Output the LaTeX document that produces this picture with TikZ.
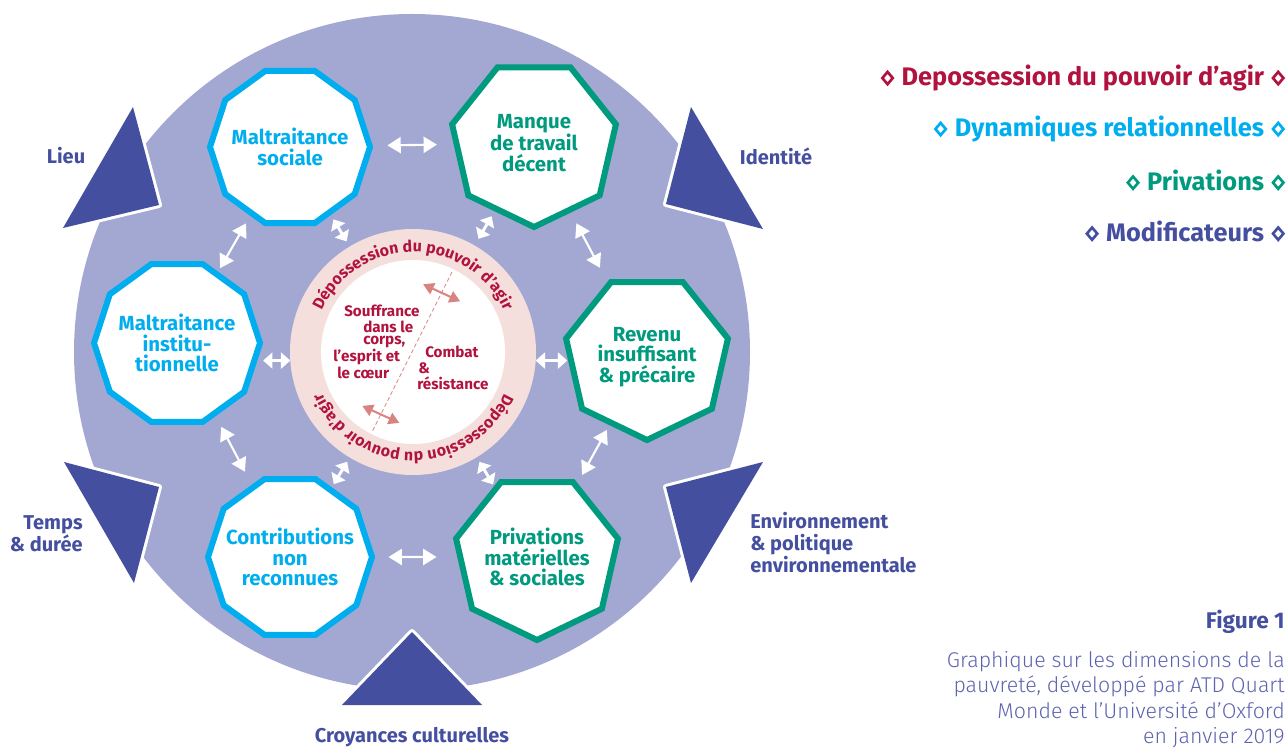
\documentclass[tikz,border=0pt]{standalone}
\usepackage{fontspec}
\setmainfont{Fira Sans}
\newfontfamily\finfont{Fira Sans Light}
\usepackage{tikz}
\usetikzlibrary{
  shapes.geometric,
  arrows.meta,
  decorations.text,
  calc}

\definecolor{fond}{HTML}{A3A8D3}
\definecolor{modif}{HTML}{454FA0}
\definecolor{dynbleu}{HTML}{00AEEF}
\definecolor{privert}{HTML}{009A7E}
\definecolor{depcrim}{HTML}{B2123E}
\definecolor{anneau}{HTML}{F4DFDC}
\definecolor{saumon}{HTML}{D8837F}
\definecolor{legende}{HTML}{5D64AE}

\newcommand{\boxfont}{\fontsize{15.3}{15.5}\selectfont\bfseries}
\newcommand{\labfont}{\fontsize{15}{16.5}\selectfont\bfseries}
\newcommand{\legfont}{\fontsize{19}{22}\selectfont\bfseries}
\newcommand{\corefont}{\fontsize{11.4}{13}\selectfont\bfseries}
\newcommand{\ringfont}{\fontsize{12}{14}\selectfont\bfseries\color{depcrim}}
\newcommand{\figfont}{\fontsize{17}{20}\selectfont\bfseries}
\newcommand{\descfont}{\fontsize{16}{19}\finfont}
\newcommand{\losange}{\tikz[baseline=-0.55ex]\draw[line width=2pt]
  (0,4.6pt) -- (3.9pt,0) -- (0,-4.6pt) -- (-3.9pt,0) -- cycle;}

\begin{document}
\begin{tikzpicture}[x=0.75pt, y=0.75pt]
\tikzset{
  dimbox/.style={fill=white, line width=4.5pt, inner sep=-14pt,
    align=center, font=\boxfont},
  dyna/.style={dimbox, regular polygon, regular polygon sides=10,
    draw=dynbleu, text=dynbleu},
  priva/.style={dimbox, regular polygon, regular polygon sides=7,
    shape border rotate=180, draw=privert, text=privert},
  lien/.style={white, line width=1.6pt,
    {Triangle[length=10pt,width=12pt]}-{Triangle[length=10pt,width=12pt]}},
  lienc/.style={white, line width=2.2pt,
    {Triangle[length=7pt,width=12pt]}-{Triangle[length=7pt,width=12pt]}},
  lutte/.style={saumon, line width=1.5pt,
    {Triangle[length=8pt,width=9pt]}-{Triangle[length=8pt,width=9pt]}},
  modlab/.style={text=modif, font=\labfont, inner sep=0pt},
}
\useasboundingbox (0,0) rectangle (1288,747);

\fill[fond] (412,395) circle[radius=338];

% modificateurs
\foreach \a/\b/\c in {
  {133,640}/{63,519}/{159,542},
  {691,640}/{763,518}/{666,543},
  {64,285}/{159,260}/{134,164},
  {763,285}/{666,260}/{691,164},
  {412,115}/{342,42}/{482,42}}
  \path[fill=modif, preaction={draw=white, line width=4.5pt, line join=round}]
    (\a) -- (\b) -- (\c) -- cycle;

% centre
\node[circle, fill=anneau, minimum size=184.5pt, inner sep=0pt, outer sep=0pt]
  (core) at (413,395) {};
\fill[white] (core.center) circle[radius=92];

\node[dyna, minimum size=120pt] (soc) at (290,600) {Maltraitance\\sociale};
\node[dyna, minimum size=124.5pt] (inst) at (177,404) {Maltraitance\\institu-\\tionnelle};
\node[dyna, minimum size=123pt] (contr) at (290,190) {Contributions\\non\\reconnues};
\node[priva, minimum size=126pt] (manq) at (534,604) {Manque\\de travail\\décent};
\node[priva, minimum size=124.5pt] (rev) at (647,390) {Revenu\\insuffisant\\\& précaire};
\node[priva, minimum size=124.5pt] (priv) at (537,190) {Privations\\matérielles\\\& sociales};

\draw[lien, shorten <=11pt, shorten >=12.5pt] (soc) -- (manq);
\draw[lien, shorten <=10pt, shorten >=15.5pt] (contr) -- (priv);
\draw[lien, shorten <=6.5pt, shorten >=3pt] (soc) -- (inst);
\draw[lien, shorten <=9pt, shorten >=12pt] (manq) -- (rev);
\draw[lien, shorten <=9pt, shorten >=11pt] (inst) -- (contr);
\draw[lien, shorten <=4pt, shorten >=7pt] (rev) -- (priv);

\draw[lienc] (inst.east |- core.184) -- (core.184);
\draw[lienc] (core.-4) -- (rev.west |- core.-4);
\draw[lienc, shorten <=3.75pt, shorten >=4.5pt] (soc) -- (core);
\draw[lienc, shorten <=4.3pt, shorten >=5.8pt] (manq) -- (core);
\draw[lienc, shorten <=2.8pt, shorten >=3.75pt] (contr) -- (core);
\draw[lienc, shorten <=1.4pt, shorten >=4pt] (priv) -- (core);

% anneau
\path[decorate, decoration={text along path, text align=center,
  text={|\ringfont|Dépossession du pouvoir d’agir}}]
  (core.center) ++(160:100) arc[start angle=160, end angle=20, radius=100];
\path[decorate, decoration={text along path, text align=center,
  text={|\ringfont|Dépossession du pouvoir d’agir}}]
  (core.center) ++(-20:100) arc[start angle=-20, end angle=-160, radius=100];

\coordinate (lim1) at (452,475);
\coordinate (lim2) at (372,315);
\draw[saumon, line width=0.6pt, dash pattern=on 3pt off 2pt] (lim1) -- (lim2);
\draw[lutte] ($(lim1)!0.13!(lim2)$) ++(-18.5,8.5) -- ++(37,-17);
\draw[lutte] ($(lim1)!0.89!(lim2)$) ++(-18.5,8.5) -- ++(37,-17);

\foreach \t/\x/\y [count=\i] in {Souffrance/344/436, dans le/363/420,
  {corps,}/363/405, l’esprit et/333/390, le cœur/337/374}
  \node[anchor=west, inner sep=0pt, text=depcrim, font=\corefont] (souf\i) at (\x,\y) {\t};
\foreach \t/\x/\y [count=\i] in {Combat/425/395, \&/418/379, résistance/417/364}
  \node[anchor=west, inner sep=0pt, text=depcrim, font=\corefont] (comb\i) at (\x,\y) {\t};

% libelles
\node[modlab] (lieu) at (66,591) {Lieu};
\node[modlab] (ident) at (776,591) {Identité};
\node[modlab, anchor=east, align=right] (temps) at (83,213) {Temps\\\& durée};
\node[modlab, anchor=west, align=left] (envir) at (750,204)
  {Environnement\\\& politique\\environnementale};
\node[modlab] (croy) at (412,10) {Croyances culturelles};

% legende
\foreach \txt/\col/\yy [count=\i] in {Depossession du pouvoir d’agir/depcrim/669,
  Dynamiques relationnelles/dynbleu/618, Privations/privert/567, Modificateurs/modif/516}
  \node[anchor=east, inner sep=0pt, text=\col, font=\legfont] (leg\i) at (1285,\yy)
    {\losange\hspace{0.3em}\txt\hspace{0.3em}\losange};

\node[anchor=east, inner sep=0pt, text=modif, font=\figfont] (fig) at (1285,125) {Figure 1};
\node[anchor=north east, align=right, inner sep=0pt, text=legende, font=\descfont]
  (desc) at (1285,96) {Graphique sur les dimensions de la\\pauvreté, développé par ATD Quart\\
  Monde et l’Université d’Oxford\\en janvier 2019};
\end{tikzpicture}
\end{document}
